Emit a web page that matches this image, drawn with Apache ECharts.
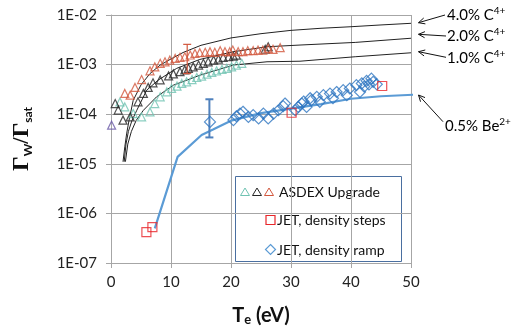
<!DOCTYPE html>
<html>
<head>
<meta charset="utf-8">
<script src="https://cdn.jsdelivr.net/npm/echarts@6/dist/echarts.min.js"></script>
<style>
  html, body { margin: 0; padding: 0; background: #fff; }
  #chart { width: 519px; height: 332px; }
</style>
</head>
<body>
<div id="chart"></div>
<script>
// x ticks and y tick labels
const xTicks = [0, 10, 20, 30, 40, 50];
const yExps = [-7, -6, -5, -4, -3, -2];
const yTickLabels = ["1E-07", "1E-06", "1E-05", "1E-04", "1E-03", "1E-02"];

// ASDEX Upgrade, [Te (eV), Gw/Gsat]
const asdexTeal = [
  [1.5, 1.77e-4], [2.3, 1.4e-4], [3.7, 1.03e-4], [5.1, 8.8e-5], [6.5, 1.11e-4],
  [7.3, 1.64e-4], [8.2, 2.24e-4], [9.3, 2.82e-4], [10.1, 3.31e-4], [11.0, 3.68e-4],
  [11.8, 4.17e-4], [12.6, 4.5e-4], [13.5, 5.0e-4], [14.3, 5.5e-4], [15.1, 5.86e-4],
  [16.0, 6.45e-4], [16.8, 6.95e-4], [17.6, 7.5e-4], [18.5, 8.0e-4], [19.3, 8.4e-4],
  [20.1, 9.0e-4], [20.9, 9.8e-4], [21.8, 1.06e-3]
];
const asdexBlack = [
  [0.7, 1.64e-4], [1.2, 1.21e-4], [2.0, 7.6e-5], [3.2, 8.8e-5], [4.5, 1.78e-4],
  [5.4, 2.62e-4], [6.2, 3.47e-4], [7.0, 4.3e-4], [8.2, 4.9e-4], [9.6, 5.9e-4],
  [10.4, 6.5e-4], [11.5, 7.2e-4], [12.3, 7.8e-4], [12.9, 8.4e-4], [13.7, 9.0e-4],
  [14.6, 9.8e-4], [15.4, 1.06e-3], [16.2, 1.14e-3], [17.1, 1.23e-3], [17.9, 1.29e-3],
  [18.7, 1.4e-3], [19.6, 1.44e-3], [20.4, 1.48e-3], [20.9, 1.55e-3],
  [25.7, 2.04e-3], [26.2, 2.29e-3]
];
const asdexRed = [
  [2.3, 2.62e-4], [3.2, 2.42e-4], [4.0, 3.46e-4], [5.1, 5.0e-4], [6.5, 7.5e-4],
  [7.3, 9.0e-4], [8.2, 1.06e-3], [9.0, 1.14e-3], [9.8, 1.23e-3], [10.7, 1.33e-3],
  [11.5, 1.4e-3], [12.3, 1.44e-3], [13.2, 1.56e-3], [14.0, 1.68e-3], [14.8, 1.74e-3],
  [15.7, 1.77e-3], [16.5, 1.82e-3], [17.3, 1.77e-3], [18.2, 1.91e-3], [19.0, 1.82e-3],
  [19.8, 1.82e-3], [20.3, 1.96e-3], [21.2, 1.82e-3], [22.0, 1.82e-3], [22.8, 1.91e-3],
  [23.7, 1.91e-3], [24.5, 1.96e-3], [25.3, 1.96e-3], [26.2, 2.12e-3], [27.0, 2.03e-3],
  [28.2, 2.19e-3]
];
const asdexOther = [[0.1, 6.0e-5]];
const asdexErr = [[12.7, 6.6e-4, 2.56e-3]];

// JET
const jetSteps = [[5.9, 4.2e-7], [6.9, 5.3e-7], [30.1, 1.07e-4], [45.2, 3.7e-4]];
const jetRamp = [
  [16.5, 7.0e-5], [20.4, 7.6e-5], [20.9, 9.1e-5], [21.5, 1.03e-4], [22.0, 1.12e-4],
  [22.9, 8.8e-5], [23.7, 9.6e-5], [24.6, 8.2e-5], [25.4, 1.03e-4], [26.2, 8.2e-5],
  [27.1, 1.03e-4], [27.9, 1.2e-4], [28.7, 1.45e-4], [29.0, 1.64e-4], [30.7, 1.2e-4],
  [31.2, 1.4e-4], [31.8, 1.64e-4], [32.1, 1.8e-4], [32.6, 1.4e-4], [33.2, 2.1e-4],
  [33.4, 1.92e-4], [34.3, 2.24e-4], [34.8, 1.78e-4], [35.4, 2.42e-4], [36.5, 2.6e-4],
  [37.0, 2.1e-4], [37.6, 2.8e-4], [38.7, 3.05e-4], [39.3, 2.42e-4], [39.8, 3.3e-4],
  [40.9, 3.85e-4], [41.5, 2.8e-4], [41.8, 4.17e-4], [42.2, 3.6e-4], [42.6, 4.7e-4],
  [43.0, 4.0e-4], [43.4, 5.2e-4], [43.7, 4.5e-4], [44.3, 4.0e-4]
];
const jetErr = [[16.4, 3.4e-5, 2.0e-4]];

// model curves
const c4Curve = [
  [2.0, 1.1e-5], [2.3, 2.2e-5], [2.6, 4.0e-5], [3.0, 7.5e-5], [3.7, 1.9e-4],
  [5.0, 3.9e-4], [6.5, 6.6e-4], [8.2, 9.8e-4], [10, 1.3e-3], [12, 1.75e-3],
  [15, 2.45e-3], [20, 3.45e-3], [25, 4.2e-3], [30, 4.9e-3], [35, 5.4e-3],
  [40, 5.8e-3], [45, 6.3e-3], [50, 6.8e-3]
];
const c2Curve = [
  [2.2, 1.1e-5], [2.5, 2.5e-5], [2.9, 4.5e-5], [3.5, 7.5e-5], [4.3, 1.2e-4],
  [5.95, 3.05e-4], [7.9, 4.9e-4], [10.95, 8.4e-4], [14.8, 1.27e-3], [20.4, 1.82e-3],
  [26, 2.29e-3], [31.5, 2.48e-3], [40.7, 2.8e-3], [50, 3.4e-3]
];
const c1Curve = [
  [2.4, 1.1e-5], [2.8, 2.5e-5], [3.4, 4.5e-5], [4.2, 7.5e-5], [5.4, 1.2e-4],
  [7.6, 2.24e-4], [10.4, 3.85e-4], [14.8, 6.1e-4], [20.4, 9.8e-4], [26, 1.14e-3],
  [31.5, 1.17e-3], [40.7, 1.44e-3], [50, 1.73e-3]
];
const beCurve = [
  [7.3, 5.0e-7], [11.1, 1.38e-5], [15.1, 3.8e-5], [17, 4.9e-5], [20, 7.4e-5],
  [25, 1.05e-4], [30, 1.3e-4], [35, 1.6e-4], [40, 2.05e-4], [45, 2.3e-4], [52.8, 2.55e-4]
];

const FONT = "Lato";
const chart = echarts.init(document.getElementById("chart"), null, { renderer: "canvas" });

function errBarSeries(data, color, width) {
  return {
    type: "custom",
    data: data,
    z: 4,
    clip: false,
    renderItem: function (params, api) {
      const lo = api.coord([api.value(0), api.value(1)]);
      const hi = api.coord([api.value(0), api.value(2)]);
      const cap = 4;
      const st = { stroke: color, lineWidth: width };
      return {
        type: "group",
        children: [
          { type: "line", shape: { x1: lo[0], y1: lo[1], x2: hi[0], y2: hi[1] }, style: st },
          { type: "line", shape: { x1: lo[0] - cap, y1: lo[1], x2: lo[0] + cap, y2: lo[1] }, style: st },
          { type: "line", shape: { x1: hi[0] - cap, y1: hi[1], x2: hi[0] + cap, y2: hi[1] }, style: st }
        ]
      };
    }
  };
}

function curve(data, color, width) {
  return {
    type: "line", data: data, symbol: "none", smooth: false, z: 1,
    lineStyle: { color: color, width: width }
  };
}

function hollow(data, symbol, size, color, z) {
  return {
    type: "scatter", data: data, symbol: symbol, symbolSize: size, z: z,
    itemStyle: { color: "rgba(0,0,0,0)", borderColor: color, borderWidth: 1.2 }
  };
}

// arrow annotation helper (pixel space, decoration only)
function arrow(x1, y1, x2, y2) {
  const a = Math.atan2(y2 - y1, x2 - x1);
  const L = 7, s = 0.45;
  const p1 = [x2 - L * Math.cos(a - s), y2 - L * Math.sin(a - s)];
  const p2 = [x2 - L * Math.cos(a + s), y2 - L * Math.sin(a + s)];
  const st = { stroke: "#111", lineWidth: 1 };
  return [
    { type: "line", shape: { x1: x1, y1: y1, x2: x2, y2: y2 }, style: st },
    { type: "polyline", shape: { points: [p1, [x2, y2], p2] }, style: Object.assign({ fill: null }, st) }
  ];
}

function label(x, y, main, sup) {
  return {
    type: "text", x: x, y: y,
    style: {
      text: "{m|" + main + "}{s|" + sup + "}",
      verticalAlign: "middle",
      rich: {
        m: { fontFamily: FONT, fontSize: 15, color: "#111", lineHeight: 18 },
        s: { fontFamily: FONT, fontSize: 10, color: "#111", verticalAlign: "top", lineHeight: 10 }
      }
    }
  };
}

function tri(cx, cy, color) {
  return {
    type: "polygon",
    shape: { points: [[cx, cy - 4], [cx + 4.5, cy + 3.5], [cx - 4.5, cy + 3.5]] },
    style: { fill: null, stroke: color, lineWidth: 1 }
  };
}

const option = {
  animation: false,
  grid: { left: 111, right: 108, top: 15, bottom: 69 },
  xAxis: {
    type: "value", min: 0, max: 50, interval: 10,
    name: "{t|T}{s|e}{t| (eV)}",
    nameLocation: "middle", nameGap: 43,
    nameTextStyle: {
      rich: {
        t: { fontFamily: FONT, fontSize: 20, fontWeight: "bold", color: "#111" },
        s: { fontFamily: FONT, fontSize: 13, fontWeight: "bold", color: "#111", verticalAlign: "bottom", lineHeight: 10 }
      }
    },
    axisLine: { lineStyle: { color: "#a6a6a6" } },
    axisTick: { show: true, length: 5, lineStyle: { color: "#a6a6a6" } },
    axisLabel: {
      fontFamily: FONT, fontSize: 15, color: "#222", margin: 12,
      formatter: function (v) { return xTicks.indexOf(v) >= 0 ? String(v) : ""; }
    },
    splitLine: { show: true, lineStyle: { color: "#a6a6a6", width: 1 } }
  },
  yAxis: {
    type: "log", logBase: 10, min: 1e-7, max: 1e-2,
    name: "{g|Γ}{s|W}{g|/Γ}{s|sat}",
    nameLocation: "middle", nameGap: 77,
    nameTextStyle: {
      rich: {
        g: { fontFamily: "Liberation Serif", fontSize: 23, fontWeight: "bold", color: "#111" },
        s: { fontFamily: FONT, fontSize: 12, fontWeight: "bold", color: "#111", verticalAlign: "bottom", lineHeight: 10 }
      }
    },
    axisLine: { show: true, lineStyle: { color: "#a6a6a6" } },
    axisTick: { show: true, length: 5, lineStyle: { color: "#a6a6a6" } },
    axisLabel: {
      fontFamily: FONT, fontSize: 15, color: "#222", margin: 14,
      formatter: function (v) {
        const i = yExps.indexOf(Math.round(Math.log10(v)));
        return i >= 0 ? yTickLabels[i] : "";
      }
    },
    splitLine: { show: true, lineStyle: { color: "#a6a6a6", width: 1 } }
  },
  series: [
    curve(c4Curve, "#222", 1),
    curve(c2Curve, "#222", 1),
    curve(c1Curve, "#222", 1),
    hollow(asdexTeal, "triangle", 8, "#6fc3b2", 3),
    hollow(asdexBlack, "triangle", 8, "#262626", 3),
    hollow(asdexRed, "triangle", 8, "#d2573d", 3),
    hollow(asdexOther, "triangle", 8, "#6a5aa8", 3),
    errBarSeries(asdexErr, "#d2573d", 1.2),
    Object.assign(curve(beCurve, "#5b9bd5", 2.2), { clip: false, z: 2 }),
    hollow(jetRamp, "diamond", 11, "#2e75c0", 4),
    errBarSeries(jetErr, "#4f81bd", 2),
    hollow(jetSteps, "rect", 9, "#e8262a", 5)
  ],
  graphic: [
    {
      type: "group", z: 100,
      children: [
        { type: "rect", shape: { x: 235.5, y: 176.5, width: 166, height: 85 },
          style: { fill: "#fff", stroke: "#4a6fa0", lineWidth: 1 } },
        tri(245, 192, "#6fc3b2"), tri(257, 192, "#262626"), tri(269, 192, "#d2573d"),
        { type: "text", x: 279, y: 192, style: { text: "ASDEX Upgrade", fontFamily: FONT, fontSize: 14, fill: "#111", verticalAlign: "middle" } },
        { type: "rect", shape: { x: 266, y: 215.5, width: 9, height: 9 },
          style: { fill: null, stroke: "#e8262a", lineWidth: 1.2 } },
        { type: "text", x: 277, y: 220, style: { text: "JET, density steps", fontFamily: FONT, fontSize: 14, fill: "#111", verticalAlign: "middle" } },
        { type: "polygon", shape: { points: [[270.5, 244.5], [275.5, 249.5], [270.5, 254.5], [265.5, 249.5]] },
          style: { fill: null, stroke: "#5b9bd5", lineWidth: 1.2 } },
        { type: "text", x: 277, y: 250, style: { text: "JET, density ramp", fontFamily: FONT, fontSize: 14, fill: "#111", verticalAlign: "middle" } }
      ]
    },
    {
      type: "group", z: 100,
      children: [].concat(
        arrow(445, 15, 418.5, 22.7),
        arrow(446, 36, 418.5, 34.3),
        arrow(446, 57.3, 418.5, 51.7),
        arrow(443, 121.7, 418.5, 95),
        [
          label(447, 15, "4.0% C", "4+"),
          label(447, 36, "2.0% C", "4+"),
          label(447, 58, "1.0% C", "4+"),
          label(445, 126, "0.5% Be", "2+")
        ]
      )
    }
  ]
};

chart.setOption(option);
</script>
</body>
</html>
